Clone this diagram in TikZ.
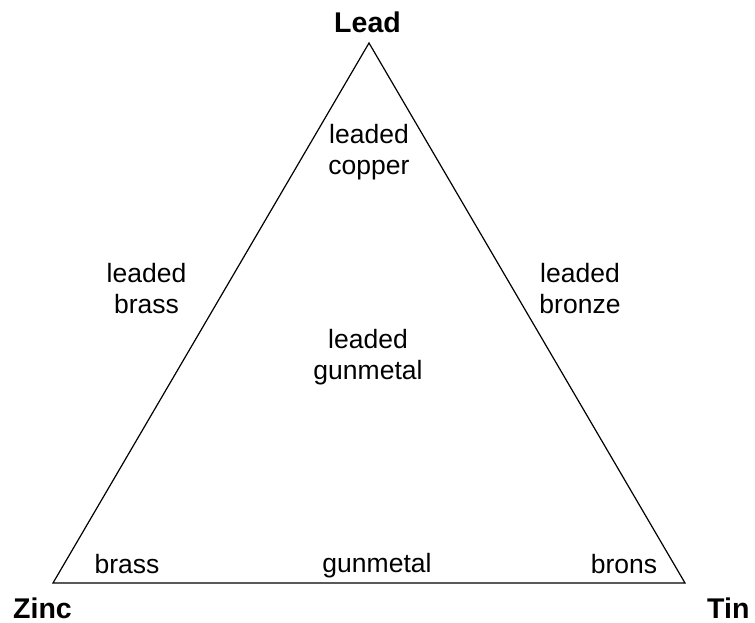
\documentclass[tikz,border=0pt]{standalone}
\usepackage{fontspec}
\setmainfont{Liberation Sans}
\begin{document}
\begin{tikzpicture}[x=1pt,y=-1pt,
  lbl/.style={font=\fontsize{26.5}{31}\selectfont, align=center, inner sep=0pt, anchor=base},
  corner/.style={font=\fontsize{28.5}{31}\selectfont\bfseries, inner sep=0pt, anchor=base},
  edge/.style={draw=black, line width=1.2pt, line join=miter}]
\useasboundingbox (0,0) rectangle (755,623);
\coordinate (apex) at (369,43);
\coordinate (bl) at (53,583);
\coordinate (br) at (685,583);
\draw[edge] (apex) -- (bl) -- (br) -- cycle;
\node[corner] (lead) at (367.5,33) {Lead};
\node[corner, anchor=base west] (zinc) at (13,618) {Zinc};
\node[corner, anchor=base west] (tin) at (707,618) {Tin};
\node[lbl] (lcopper) at (369,175) {leaded\\copper};
\node[lbl] (lbrass) at (146.5,313) {leaded\\brass};
\node[lbl] (lbronze) at (580,313) {leaded\\bronze};
\node[lbl] (lgun) at (368,379) {leaded\\gunmetal};
\node[lbl] (brass) at (127,573) {brass};
\node[lbl] (gun) at (377,572) {gunmetal};
\node[lbl] (brons) at (624,573) {brons};
\end{tikzpicture}
\end{document}
